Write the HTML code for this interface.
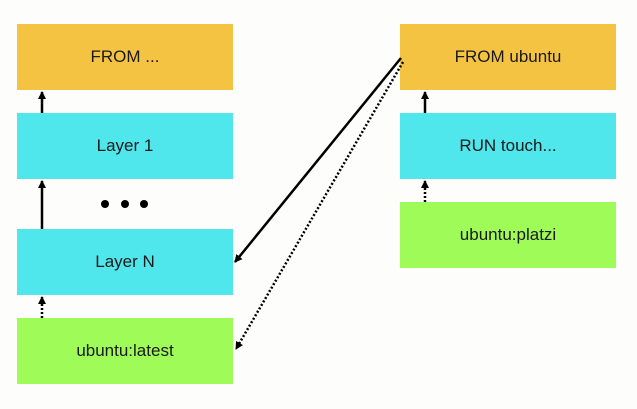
<!DOCTYPE html>
<html><head><style>
body{margin:0;width:637px;height:409px;background:#fdfdfc;position:relative;overflow:hidden;font-family:"Liberation Sans",sans-serif}
.b{position:absolute;width:216px;height:66px;display:flex;align-items:center;justify-content:center;font-size:17px;color:#1a1a1a}
.o{background:#f5c342}.c{background:#4fe6ec}.g{background:#9ffb57}
</style></head><body>
<div class="b o" style="left:17px;top:24px">FROM ...</div>
<div class="b c" style="left:17px;top:113px">Layer 1</div>
<div class="b c" style="left:17px;top:229px">Layer N</div>
<div class="b g" style="left:17px;top:318px">ubuntu:latest</div>
<div class="b o" style="left:400px;top:24px">FROM ubuntu</div>
<div class="b c" style="left:400px;top:113px">RUN touch...</div>
<div class="b g" style="left:400px;top:202px">ubuntu:platzi</div>
<svg width="637" height="409" style="position:absolute;left:0;top:0">
<defs><marker id="a" markerWidth="8" markerHeight="8" refX="7" refY="4" orient="auto" markerUnits="userSpaceOnUse"><path d="M0,0 L8,4 L0,8 Z" fill="#000"/></marker></defs>
<g stroke="#000" stroke-width="2.5" fill="none">
<line x1="42" y1="113" x2="42" y2="92" marker-end="url(#a)"/>
<line x1="42" y1="229" x2="42" y2="181" marker-end="url(#a)"/>
<line x1="42" y1="318" x2="42" y2="297" stroke-dasharray="2 2" marker-end="url(#a)"/>
<line x1="425" y1="113" x2="425" y2="92" marker-end="url(#a)"/>
<line x1="425" y1="202" x2="425" y2="181" stroke-dasharray="2 2" marker-end="url(#a)"/>
<line x1="401" y1="58" x2="235" y2="262" marker-end="url(#a)"/>
<line x1="403" y1="62" x2="236" y2="349" stroke-dasharray="2 2" marker-end="url(#a)"/>
</g>
<circle cx="105" cy="204" r="4"/><circle cx="125" cy="204" r="4"/><circle cx="144" cy="204" r="4"/>
</svg>
</body></html>
